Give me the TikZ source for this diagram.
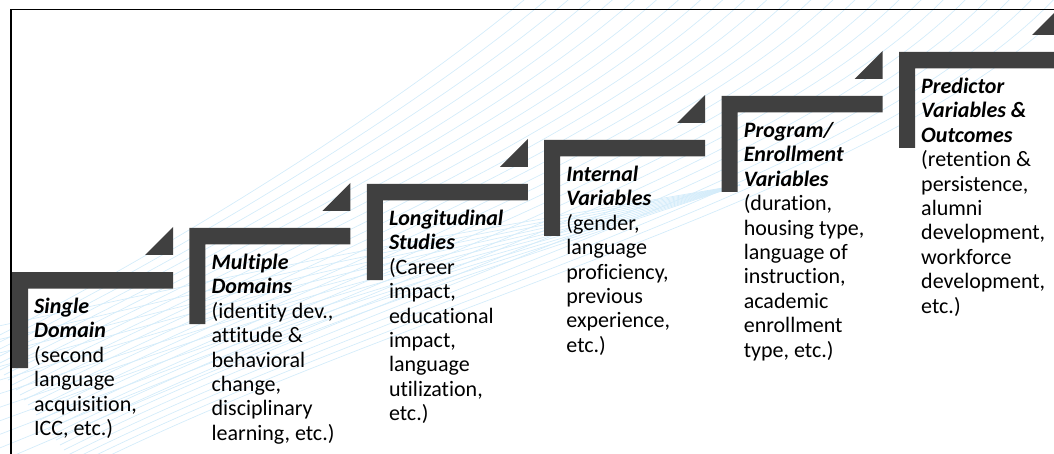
\documentclass[tikz,border=0pt]{standalone}
\usepackage{fontspec}
\setmainfont{Carlito}[Ligatures=NoCommon]
\definecolor{stepgray}{HTML}{404040}
\definecolor{wave}{RGB}{212,236,250}
\newcommand\stitle[1]{\textbf{\textit{#1}}}
\newcommand\stack[1]{\begin{tabular}[t]{@{}l@{}}#1\end{tabular}}
\tikzset{
  stair/.style={fill=stepgray},
  wavy/.style={draw=wave, line width=0.7pt},
  steptext/.style={anchor=base west, inner sep=0pt, font=\fontsize{22}{24.4}\selectfont},
}

\begin{document}
\begin{tikzpicture}[x=1pt,y=-1pt]
  \useasboundingbox (0,0) rectangle (1054,454);
  \clip (0,0) rectangle (1054,454);
  \foreach \k in {0,...,25}{
    \pgfmathsetmacro\t{\k/25}
    \draw[wavy] ({-20+100*\t},{345+125*\t}) .. controls ({150+270*\t},{260+40*\t}) and ({380+520*\t},{120+70*\t}) .. ({530+550*\t},-5);
  }
  \foreach \k in {0,...,10}{
    \pgfmathsetmacro\t{\k/10}
    \draw[wavy] (-20,{330+140*\t}) .. controls (330,{255+65*\t}) .. (740,185);
  }
  \draw[line width=1.3pt] (11,460) -- (11,9.5) -- (1060,9.5);
  \foreach \i in {0,...,5}{
    \coordinate (s\i) at ({12+177.4*\i},{272-44*\i});
    \fill[stair] (s\i) -- ++(161,0) -- ++(0,16.5) -- ++(-145,0) -- ++(0,79.5) -- ++(-16,0) -- cycle;
    \fill[stair] ([shift={(161,-17)}]s\i) -- ++(-28,0) -- ++(28,-28) -- cycle;
  }
  \node[steptext] (single) at ([shift={(22,41.5)}]s0)
    {\stack{\stitle{Single}\\\stitle{Domain}\\(second\\language\\acquisition,\\ICC, etc.)}};
  \node[steptext] (multiple) at ([shift={(22,41.5)}]s1)
    {\stack{\stitle{Multiple}\\\stitle{Domains}\\(identity dev.,\\attitude \&\\behavioral\\change,\\disciplinary\\learning, etc.)}};
  \node[steptext] (longitudinal) at ([shift={(22,41.5)}]s2)
    {\stack{\stitle{Longitudinal}\\\stitle{Studies}\\(Career\\impact,\\educational\\impact,\\language\\utilization,\\etc.)}};
  \node[steptext] (internal) at ([shift={(22,41.5)}]s3)
    {\stack{\stitle{Internal}\\\stitle{Variables}\\(gender,\\language\\proficiency,\\previous\\experience,\\etc.)}};
  \node[steptext] (program) at ([shift={(22,41.5)}]s4)
    {\stack{\stitle{Program/}\\\stitle{Enrollment}\\\stitle{Variables}\\(duration,\\housing type,\\language of\\instruction,\\academic\\enrollment\\type, etc.)}};
  \node[steptext] (predictor) at ([shift={(22,41.5)}]s5)
    {\stack{\stitle{Predictor}\\\stitle{Variables \&}\\\stitle{Outcomes}\\(retention \&\\persistence,\\alumni\\development,\\workforce\\development,\\etc.)}};
\end{tikzpicture}
\end{document}
